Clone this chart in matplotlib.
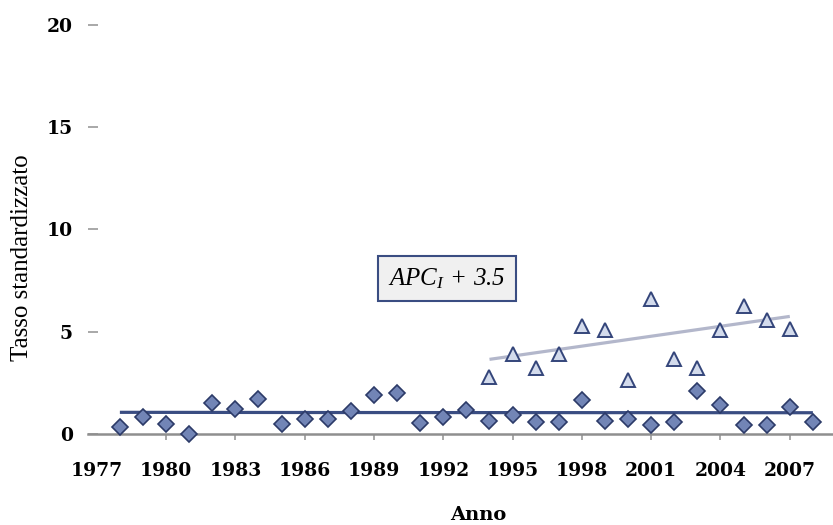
import matplotlib
matplotlib.use("Agg")
import matplotlib.pyplot as plt

# ---- data ----
years_all = list(range(1978, 2009))
rate_all = [0.33, 0.82, 0.50, 0.00, 1.50, 1.24, 1.71, 0.50, 0.72, 0.72,
            1.11, 1.92, 2.00, 0.55, 0.84, 1.15, 0.66, 0.92, 0.60, 0.60,
            1.65, 0.63, 0.71, 0.43, 0.60, 2.11, 1.41, 0.43, 0.43, 1.33, 0.60]

years_sub = list(range(1994, 2008))
rate_sub = [2.80, 3.93, 3.24, 3.93, 5.30, 5.07, 2.66, 6.60, 3.69, 3.24,
            5.10, 6.27, 5.58, 5.14]

trend_all_x = [1978, 1987, 2008]
trend_all_y = [1.06, 1.05, 1.04]
trend_sub_x = [1994, 2007]
trend_sub_y = [3.65, 5.75]

xticks = list(range(1977, 2008, 3))
yticks = [0, 5, 10, 15, 20]
annot_text = r"$APC_I\, +\, 3.5$"

# ---- figure ----
plt.rcParams["mathtext.fontset"] = "custom"
plt.rcParams["mathtext.rm"] = "Liberation Serif:italic"
plt.rcParams["mathtext.it"] = "Liberation Serif:italic"
fig = plt.figure(figsize=(8.33, 5.25), dpi=100)
ax = fig.add_axes([88/833, 1 - 434/525, 1 - 88/833, 409/525])

navy = "#3a4d82"
ax.plot(trend_all_x, trend_all_y, color=navy, lw=2.3, solid_capstyle="butt", zorder=2)
ax.plot(trend_sub_x, trend_sub_y, color="#b3b7cb", lw=2.3, solid_capstyle="butt", zorder=2)

ax.plot(years_all, rate_all, ls="none", marker="D", ms=8, mfc="#7285b6",
        mec="#2c3a68", mew=1.2, clip_on=False, zorder=3)
ax.plot(years_sub, rate_sub, ls="none", marker="^", ms=9.5, mfc="#d3dbec",
        mec="#34457a", mew=1.4, clip_on=False, zorder=3)

ax.set_xlim(1976.62, 2008.87)
ax.set_ylim(0, 20)

for s in ["top", "right", "left"]:
    ax.spines[s].set_visible(False)
ax.spines["bottom"].set_color("#8f8f8f")
ax.spines["bottom"].set_linewidth(1.8)

ax.set_xticks(xticks)
ax.set_xticklabels([str(x) for x in xticks])
ax.set_yticks(yticks)
ax.set_yticklabels([str(y) for y in yticks])

ax.tick_params(axis="x", direction="out", length=4, width=1.2, color="#9a9a9a",
               pad=16, labelsize=13.5)
ax.tick_params(axis="y", direction="in", length=7, width=1.2, color="#9a9a9a",
               pad=11, labelsize=13.5)
ax.xaxis.get_major_ticks()[0].tick1line.set_visible(False)
for lab in ax.get_xticklabels() + ax.get_yticklabels():
    lab.set_fontfamily("DejaVu Serif")
    lab.set_fontweight("bold")

ax.set_ylabel("Tasso standardizzato", fontfamily="Liberation Serif", fontsize=18,
              va="center", ha="center")
ax.yaxis.set_label_coords((22 - 88) / 745, (434 - 258) / 409)
ax.set_xlabel("Anno", fontfamily="DejaVu Serif", fontweight="bold", fontsize=14,
              va="center", ha="center")
ax.xaxis.set_label_coords((478 - 88) / 745, (434 - 515) / 409)

ax.text(1992.17, 7.6, annot_text, fontsize=18, ha="center", va="center",
        bbox=dict(boxstyle="square,pad=0.4", fc="#f0f0f0", ec=navy, lw=1.5),
        zorder=4)

fig.savefig("out.png", dpi=100)
